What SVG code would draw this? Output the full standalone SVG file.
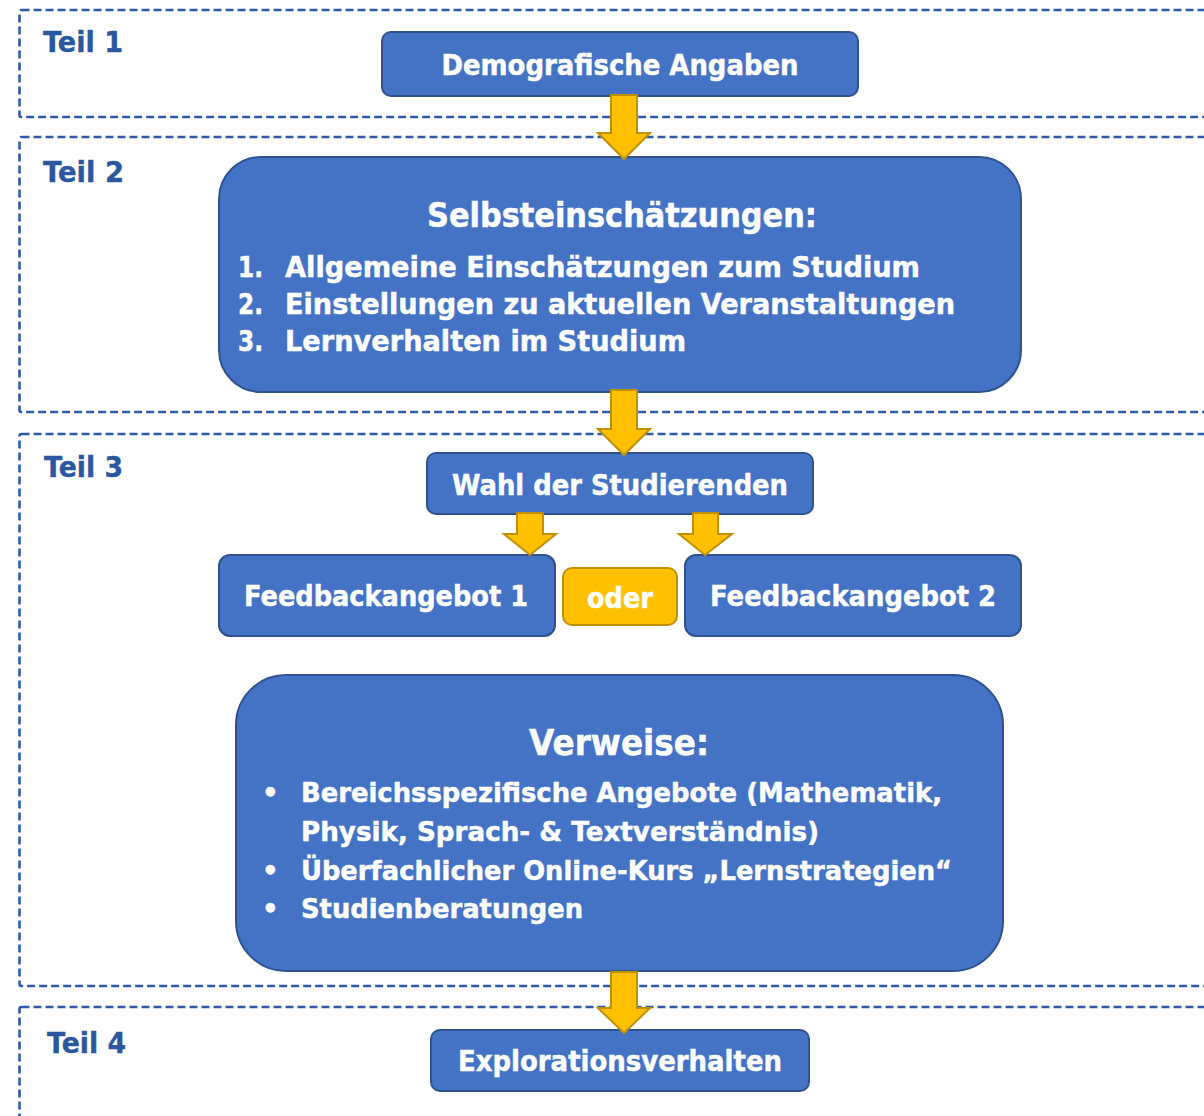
<svg xmlns="http://www.w3.org/2000/svg" width="1204" height="1116" viewBox="0 0 1204 1116">
<style>
.sec{fill:none;stroke:#2D5BA8;stroke-width:2.6;stroke-dasharray:8 4}
.teil{font-family:"DejaVu Sans",Verdana,sans-serif;font-weight:bold;font-size:28.5px;fill:#2B579E;stroke:#2B579E;stroke-width:0.4}
.box{fill:#4472C4;stroke:#2F528F;stroke-width:2}
.oder{fill:#FFC000;stroke:#BF9000;stroke-width:2}
.t{font-family:"DejaVu Sans",Verdana,sans-serif;font-weight:bold;fill:#FFFFFF;stroke:#FFFFFF;stroke-width:0.5}
.arr{fill:#FFC000;stroke:#BF9000;stroke-width:2;stroke-linejoin:miter}
</style>
<rect width="1204" height="1116" fill="#FFFFFF"/>
<g id="sections">
<rect class="sec" x="19.5" y="10" width="1210" height="107" rx="2"/>
<rect class="sec" x="19.5" y="137" width="1210" height="275" rx="2"/>
<rect class="sec" x="19.5" y="434" width="1210" height="552" rx="2"/>
<rect class="sec" x="19.5" y="1007" width="1210" height="140" rx="2"/>
<text class="teil" x="43" y="52" textLength="80" lengthAdjust="spacingAndGlyphs">Teil 1</text>
<text class="teil" x="43" y="182" textLength="81" lengthAdjust="spacingAndGlyphs">Teil 2</text>
<text class="teil" x="44" y="477" textLength="79" lengthAdjust="spacingAndGlyphs">Teil 3</text>
<text class="teil" x="47" y="1053" textLength="79" lengthAdjust="spacingAndGlyphs">Teil 4</text>
</g>
<g id="demografische">
<rect class="box" x="382" y="32" width="476" height="64" rx="9"/>
<text class="t" x="620" y="75" font-size="27.5" text-anchor="middle" textLength="357" lengthAdjust="spacingAndGlyphs">Demografische Angaben</text>
</g>
<g id="selbsteinschaetzungen">
<rect class="box" x="219" y="157" width="802" height="235" rx="42"/>
<text class="t" x="622" y="227" font-size="33" text-anchor="middle" textLength="390" lengthAdjust="spacingAndGlyphs">Selbsteinschätzungen:</text>
<text class="t" x="238" y="277" font-size="28.5" textLength="25" lengthAdjust="spacingAndGlyphs">1.</text>
<text class="t" x="285" y="277" font-size="28.5" textLength="635" lengthAdjust="spacingAndGlyphs">Allgemeine Einschätzungen zum Studium</text>
<text class="t" x="238" y="314" font-size="28.5" textLength="25" lengthAdjust="spacingAndGlyphs">2.</text>
<text class="t" x="285" y="314" font-size="28.5" textLength="670" lengthAdjust="spacingAndGlyphs">Einstellungen zu aktuellen Veranstaltungen</text>
<text class="t" x="238" y="351" font-size="28.5" textLength="25" lengthAdjust="spacingAndGlyphs">3.</text>
<text class="t" x="285" y="351" font-size="28.5" textLength="401" lengthAdjust="spacingAndGlyphs">Lernverhalten im Studium</text>
</g>
<g id="wahl">
<rect class="box" x="427" y="453" width="386" height="61" rx="9"/>
<text class="t" x="620" y="495" font-size="27.5" text-anchor="middle" textLength="336" lengthAdjust="spacingAndGlyphs">Wahl der Studierenden</text>
</g>
<g id="feedback1">
<rect class="box" x="219" y="555" width="336" height="81" rx="11"/>
<text class="t" x="386" y="606" font-size="27.5" text-anchor="middle" textLength="284" lengthAdjust="spacingAndGlyphs">Feedbackangebot 1</text>
</g>
<g id="oder">
<rect class="oder" x="563" y="568" width="114" height="57" rx="9"/>
<text class="t" x="620" y="608" font-size="27.5" text-anchor="middle" textLength="66" lengthAdjust="spacingAndGlyphs">oder</text>
</g>
<g id="feedback2">
<rect class="box" x="685" y="555" width="336" height="81" rx="11"/>
<text class="t" x="853" y="606" font-size="27.5" text-anchor="middle" textLength="286" lengthAdjust="spacingAndGlyphs">Feedbackangebot 2</text>
</g>
<g id="verweise">
<rect class="box" x="236" y="675" width="767" height="296" rx="50"/>
<text class="t" x="619" y="755" font-size="36" text-anchor="middle" textLength="180" lengthAdjust="spacingAndGlyphs">Verweise:</text>
<text class="t" x="262" y="802" font-size="26">•</text>
<text class="t" x="301" y="802" font-size="27" textLength="641" lengthAdjust="spacingAndGlyphs">Bereichsspezifische Angebote (Mathematik,</text>
<text class="t" x="301" y="841" font-size="27" textLength="518" lengthAdjust="spacingAndGlyphs">Physik, Sprach- &amp; Textverständnis)</text>
<text class="t" x="262" y="880" font-size="26">•</text>
<text class="t" x="301" y="880" font-size="27" textLength="651" lengthAdjust="spacingAndGlyphs">Überfachlicher Online-Kurs „Lernstrategien“</text>
<text class="t" x="262" y="918" font-size="26">•</text>
<text class="t" x="301" y="918" font-size="27" textLength="282" lengthAdjust="spacingAndGlyphs">Studienberatungen</text>
</g>
<g id="exploration">
<rect class="box" x="431" y="1030" width="378" height="61" rx="9"/>
<text class="t" x="620" y="1071" font-size="27.5" text-anchor="middle" textLength="324" lengthAdjust="spacingAndGlyphs">Explorationsverhalten</text>
</g>
<g id="connectors">
<polygon class="arr" points="611,95 637,95 637,133 650,133 624,159 598,133 611,133"/>
<polygon class="arr" points="611,390 637,390 637,429 650,429 624,455 598,429 611,429"/>
<polygon class="arr" points="517,513 543,513 543,534 556,534 530,555 504,534 517,534"/>
<polygon class="arr" points="693,513 718,513 718,534 732,534 705,555 679,534 693,534"/>
<polygon class="arr" points="611,972 637,972 637,1008 650,1008 624,1033 598,1008 611,1008"/>
</g>
</svg>
